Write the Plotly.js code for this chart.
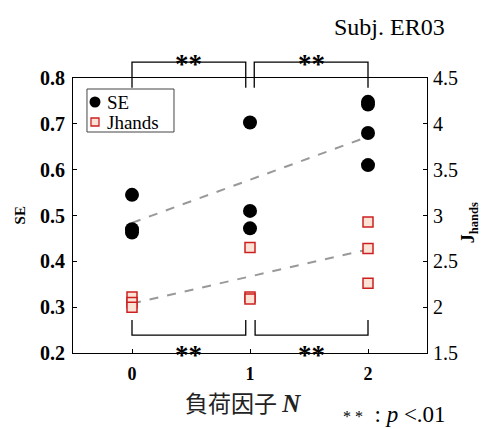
<!DOCTYPE html>
<html><head><meta charset="utf-8">
<script src="https://cdn.plot.ly/plotly-3.0.1.min.js"></script>
<style>body{margin:0;background:#fff}</style>
</head><body><div id="chart" style="width:481px;height:429px"></div>
<script>
// Data
const seX = [0, 0, 0, 1, 1, 1, 2, 2, 2, 2];
const seY = [0.545, 0.470, 0.463, 0.703, 0.510, 0.472, 0.748, 0.742, 0.680, 0.610];
const jhX = [0, 0, 0, 1, 1, 1, 2, 2, 2];
const jhY = [2.11, 2.05, 2.00, 2.65, 2.11, 2.09, 2.93, 2.64, 2.26];
const trendX = [0, 2];
const seTrend = [0.484, 0.672];
const jhTrend = [2.04, 2.63];
const xTicks = [0, 1, 2];
const yTicksL = [0.2, 0.3, 0.4, 0.5, 0.6, 0.7, 0.8];
const yTicksR = [1.5, 2, 2.5, 3, 3.5, 4, 4.5];
const pairs = [[0, 1], [1, 2]];
const legendNames = ['SE', 'Jhands'];

const serif = '"Liberation Serif", "Times New Roman", serif';
const seMarker = {symbol: 'circle', size: 14, color: '#000'};
const jhMarker = {symbol: 'square', size: 10, color: '#fde3d6', line: {color: '#cc2020', width: 1.5}};
const traces = [
  {x: trendX, y: seTrend, mode: 'lines', line: {color: '#999', width: 2, dash: 'dash'}, showlegend: false, hoverinfo: 'skip'},
  {x: trendX, y: jhTrend, yaxis: 'y2', mode: 'lines', line: {color: '#999', width: 2, dash: 'dash'}, showlegend: false, hoverinfo: 'skip'},
  {x: seX, y: seY, mode: 'markers', name: legendNames[0], showlegend: false, marker: seMarker},
  {x: jhX, y: jhY, yaxis: 'y2', mode: 'markers', name: legendNames[1], showlegend: false, marker: jhMarker}
];

const xr = [-0.5, 2.5];
const px = v => (v - xr[0]) / (xr[1] - xr[0]);
const shapes = [];
const annotations = [];
const gap = 0.012;
const star = {family: serif, size: 27, color: '#000'};
pairs.forEach(([a, b], i) => {
  const x0 = px(a) + (i === 1 ? gap : 0);
  const x1 = px(b) - (i === 0 ? gap : 0);
  shapes.push({type: 'path', xref: 'paper', yref: 'paper',
    path: `M${x0},0.965 L${x0},1.058 L${x1},1.058 L${x1},0.965`, line: {color: '#000', width: 1.3}});
  const bx0 = px(a) + (i === 1 ? gap * 1.2 : 0);
  const bx1 = px(b) - (i === 0 ? gap : 0);
  shapes.push({type: 'path', xref: 'paper', yref: 'paper',
    path: `M${bx0},0.12 L${bx0},0.065 L${bx1},0.065 L${bx1},0.12`, line: {color: '#000', width: 1.3}});
  const mid = (x0 + x1) / 2;
  annotations.push({xref: 'paper', yref: 'paper', x: mid, y: 1.052, xanchor: 'center', yanchor: 'middle',
    text: '<b>**</b>', showarrow: false, font: star});
  annotations.push({xref: 'paper', yref: 'paper', x: mid, y: -0.007, xanchor: 'center', yanchor: 'middle',
    text: '<b>**</b>', showarrow: false, font: star});
});

// manual legend (box, markers, labels)
shapes.push({type: 'rect', xref: 'paper', yref: 'paper', x0: 0.0395, x1: 0.2853, y0: 0.8036, y1: 0.96,
  line: {color: '#444', width: 1}, fillcolor: 'rgba(255,255,255,0)'});
shapes.push({type: 'circle', xref: 'paper', yref: 'paper', x0: 0.0466, x1: 0.0776, y0: 0.8927, y1: 0.9327,
  line: {color: '#000', width: 0}, fillcolor: '#000'});
shapes.push({type: 'rect', xref: 'paper', yref: 'paper', x0: 0.0508, x1: 0.0734, y0: 0.8255, y1: 0.8545,
  line: {color: '#cc2020', width: 1.3}, fillcolor: '#fde3d6'});
[0.9127, 0.84].forEach((yy, i) => {
  annotations.push({xref: 'paper', yref: 'paper', x: 0.0910, y: yy, xanchor: 'left', yanchor: 'middle',
    text: legendNames[i], showarrow: false, font: {family: serif, size: 19, color: '#000'}});
});

annotations.push({xref: 'paper', yref: 'paper', x: -0.150, y: 0.5, xanchor: 'center', yanchor: 'middle',
  text: '<b>SE</b>', textangle: -90, showarrow: false, font: {family: serif, size: 15, color: '#000'}});
annotations.push({xref: 'paper', yref: 'paper', x: 1.121, y: 0.475, xanchor: 'center', yanchor: 'middle',
  text: '<b>J<sub>hands</sub></b>', textangle: -90, showarrow: false, font: {family: serif, size: 18, color: '#000'}});
annotations.push({xref: 'paper', yref: 'paper', x: 0.895, y: 1.185, xanchor: 'center', yanchor: 'middle',
  text: 'Subj. ER03', showarrow: false, font: {family: serif, size: 24, color: '#000'}});
annotations.push({xref: 'paper', yref: 'paper', x: 0.480, y: -0.178, xanchor: 'center', yanchor: 'middle',
  text: '負荷因子 <span style="font-family:\'Liberation Serif\',serif;font-size:25px"><b><i>N</i></b></span>', showarrow: false,
  font: {family: '"Noto Sans CJK JP", sans-serif', size: 23, color: '#222'}});
annotations.push({xref: 'paper', yref: 'paper', x: 1.056, y: -0.2745, xanchor: 'right', yanchor: 'bottom',
  text: '<span style="font-size:16px">* *</span>  : <i>p</i> &lt;.01', showarrow: false, borderpad: 0,
  font: {family: serif, size: 23, color: '#000'}});

const layout = {
  width: 481, height: 429,
  margin: {l: 73, r: 54, t: 78, b: 76},
  paper_bgcolor: '#fff', plot_bgcolor: '#fff',
  font: {family: serif, color: '#000'},
  xaxis: {range: xr, tickvals: xTicks, ticktext: xTicks.map(v => '<b>' + v + '</b>'), ticks: 'inside', ticklen: 4, tickcolor: '#000', showgrid: false, zeroline: false,
    showline: true, linecolor: '#000', linewidth: 1, mirror: true, ticklabelstandoff: 4, tickfont: {family: serif, size: 18}},
  yaxis: {range: [0.2, 0.8], tickvals: yTicksL, ticktext: yTicksL.map(v => '<b>' + v.toFixed(1) + '</b>'), ticks: 'inside', ticklen: 4, tickcolor: '#000', showgrid: false, zeroline: false,
    showline: true, linecolor: '#000', linewidth: 1, ticklabelstandoff: 3, tickfont: {family: serif, size: 20}},
  yaxis2: {range: [1.5, 4.5], tickvals: yTicksR, overlaying: 'y', side: 'right', ticks: 'inside', ticklen: 4, tickcolor: '#000', showgrid: false, zeroline: false,
    showline: true, linecolor: '#000', linewidth: 1, ticklabelstandoff: 1, tickfont: {family: serif, size: 20}},
  shapes: shapes, annotations: annotations, showlegend: false
};
Plotly.newPlot('chart', traces, layout, {displayModeBar: false, staticPlot: true});
</script></body></html>
